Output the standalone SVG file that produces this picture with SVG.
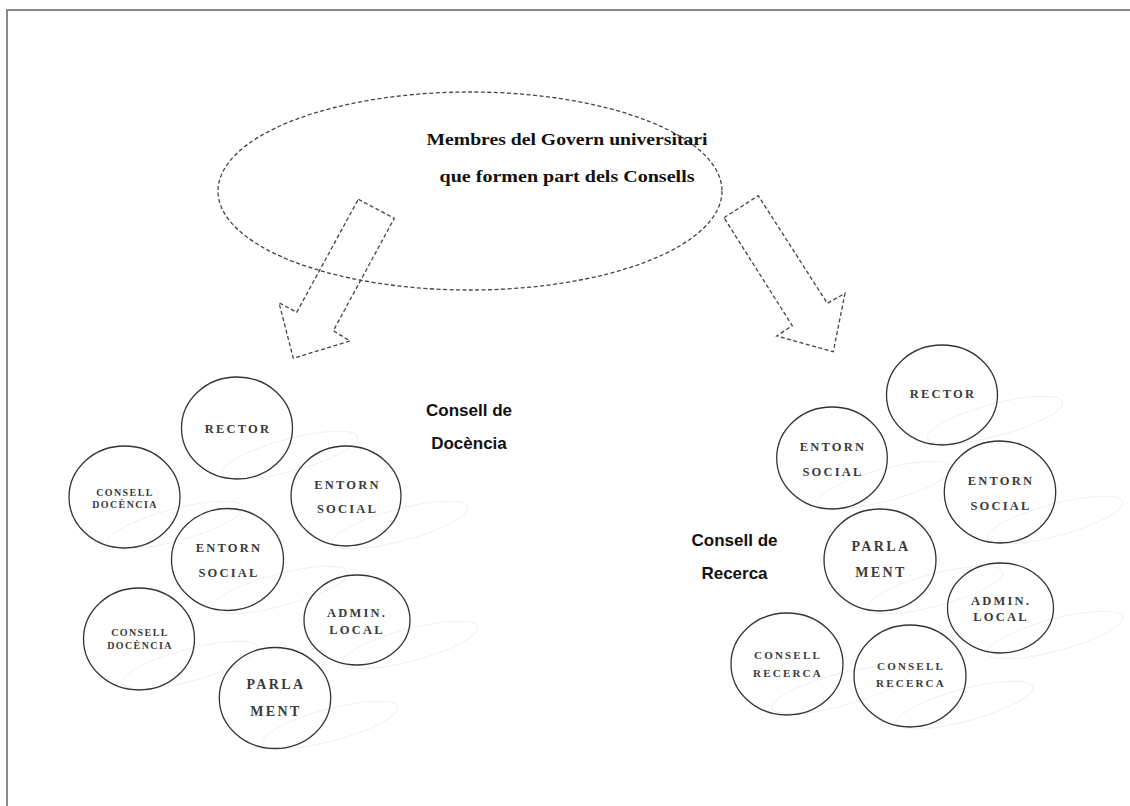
<svg xmlns="http://www.w3.org/2000/svg" width="1130" height="806" viewBox="0 0 1130 806">
<style>
.frame{stroke:#8a8a8a;stroke-width:2;fill:none}
.dash{fill:none;stroke:#444;stroke-width:1.3;stroke-dasharray:4 2.5}
.node{fill:none;stroke:#333;stroke-width:1.3}
.deco{fill:none;stroke:#efefef;stroke-width:1}
.lab{font-family:"Liberation Serif",serif;fill:#3a3a3a;text-anchor:middle;font-weight:bold}
.l13{font-size:12.5px;letter-spacing:2.2px}
.l14{font-size:14px;letter-spacing:2.4px}
.l10{font-size:10px;letter-spacing:1.4px}
.l11{font-size:11px;letter-spacing:2.2px}
.title{font-family:"Liberation Serif",serif;font-weight:bold;font-size:17px;fill:#111;text-anchor:middle}
.head{font-family:"Liberation Sans",sans-serif;font-weight:bold;font-size:17px;fill:#111;text-anchor:middle}
</style>
<rect width="1130" height="806" fill="#fff"/>
<path class="frame" d="M7,806 V10 H1130"/>

<g id="decorations">
<ellipse class="deco" cx="290" cy="455" rx="70" ry="16" transform="rotate(-15 290 455)"/>
<ellipse class="deco" cx="175" cy="525" rx="70" ry="16" transform="rotate(-15 175 525)"/>
<ellipse class="deco" cx="400" cy="525" rx="70" ry="16" transform="rotate(-15 400 525)"/>
<ellipse class="deco" cx="280" cy="590" rx="70" ry="16" transform="rotate(-15 280 590)"/>
<ellipse class="deco" cx="190" cy="665" rx="70" ry="16" transform="rotate(-15 190 665)"/>
<ellipse class="deco" cx="410" cy="645" rx="70" ry="16" transform="rotate(-15 410 645)"/>
<ellipse class="deco" cx="330" cy="725" rx="70" ry="16" transform="rotate(-15 330 725)"/>
<ellipse class="deco" cx="995" cy="420" rx="70" ry="16" transform="rotate(-15 995 420)"/>
<ellipse class="deco" cx="885" cy="485" rx="70" ry="16" transform="rotate(-15 885 485)"/>
<ellipse class="deco" cx="1055" cy="520" rx="70" ry="16" transform="rotate(-15 1055 520)"/>
<ellipse class="deco" cx="935" cy="590" rx="70" ry="16" transform="rotate(-15 935 590)"/>
<ellipse class="deco" cx="1055" cy="635" rx="70" ry="16" transform="rotate(-15 1055 635)"/>
<ellipse class="deco" cx="840" cy="690" rx="70" ry="16" transform="rotate(-15 840 690)"/>
<ellipse class="deco" cx="965" cy="705" rx="70" ry="16" transform="rotate(-15 965 705)"/>
</g>

<g id="govern">
<ellipse class="dash" cx="470" cy="191" rx="252" ry="99"/>
<text class="title" x="567" y="145" textLength="281" lengthAdjust="spacingAndGlyphs">Membres del Govern universitari</text>
<text class="title" x="567" y="182" textLength="255" lengthAdjust="spacingAndGlyphs">que formen part dels Consells</text>
</g>

<g id="connectors">
<polygon class="dash" points="358.3,199.3 394.3,218.3 333.3,330.7 350,341 293.3,358.3 279,302.7 296.7,312.3"/>
<polygon class="dash" points="724,217.7 758.3,195.7 827.3,303.3 845,293.3 833.3,351.7 776.7,336 792.3,325.7"/>
</g>

<g id="docencia-label">
<text class="head" x="469" y="416">Consell de</text>
<text class="head" x="469" y="449">Docència</text>
</g>
<g id="recerca-label">
<text class="head" x="734.5" y="546">Consell de</text>
<text class="head" x="734.5" y="579">Recerca</text>
</g>

<g id="d-rector"><ellipse class="node" cx="237" cy="428" rx="55.5" ry="51"/><text class="lab l13" x="238" y="432.5">RECTOR</text></g>
<g id="d-consell1"><ellipse class="node" cx="124.5" cy="497" rx="55.5" ry="51"/><text class="lab l10" x="125" y="495.5">CONSELL</text><text class="lab l10" x="125" y="508">DOCÈNCIA</text></g>
<g id="d-entorn1"><ellipse class="node" cx="346" cy="496" rx="55" ry="50"/><text class="lab l13" x="347.5" y="488.5">ENTORN</text><text class="lab l13" x="347.5" y="513">SOCIAL</text></g>
<g id="d-entorn2"><ellipse class="node" cx="227.5" cy="559.5" rx="56" ry="51"/><text class="lab l13" x="229" y="552">ENTORN</text><text class="lab l13" x="229" y="577">SOCIAL</text></g>
<g id="d-consell2"><ellipse class="node" cx="139" cy="639" rx="55.5" ry="51"/><text class="lab l10" x="140" y="636">CONSELL</text><text class="lab l10" x="140" y="649">DOCÈNCIA</text></g>
<g id="d-admin"><ellipse class="node" cx="357" cy="620" rx="53" ry="45"/><text class="lab l13" x="357" y="617">ADMIN.</text><text class="lab l13" x="357" y="633.5">LOCAL</text></g>
<g id="d-parlament"><ellipse class="node" cx="275" cy="698" rx="55.7" ry="50.5"/><text class="lab l14" x="276" y="689">PARLA</text><text class="lab l14" x="276" y="715.5">MENT</text></g>

<g id="r-rector"><ellipse class="node" cx="942" cy="395" rx="55.5" ry="50"/><text class="lab l13" x="943" y="398">RECTOR</text></g>
<g id="r-entorn1"><ellipse class="node" cx="832" cy="458" rx="55.3" ry="51"/><text class="lab l13" x="833" y="450.5">ENTORN</text><text class="lab l13" x="833" y="475.5">SOCIAL</text></g>
<g id="r-entorn2"><ellipse class="node" cx="1000" cy="492" rx="55.7" ry="51"/><text class="lab l13" x="1001" y="484.5">ENTORN</text><text class="lab l13" x="1001" y="509.5">SOCIAL</text></g>
<g id="r-parlament"><ellipse class="node" cx="880" cy="560" rx="56" ry="51"/><text class="lab l14" x="881" y="550.5">PARLA</text><text class="lab l14" x="881" y="577">MENT</text></g>
<g id="r-admin"><ellipse class="node" cx="1000.5" cy="608" rx="53" ry="45"/><text class="lab l13" x="1001" y="604.5">ADMIN.</text><text class="lab l13" x="1001" y="620.5">LOCAL</text></g>
<g id="r-consell1"><ellipse class="node" cx="787" cy="664" rx="56" ry="51"/><text class="lab l11" x="788" y="659">CONSELL</text><text class="lab l11" x="788" y="676.5">RECERCA</text></g>
<g id="r-consell2"><ellipse class="node" cx="910" cy="676" rx="56" ry="51"/><text class="lab l11" x="911" y="670">CONSELL</text><text class="lab l11" x="911" y="687">RECERCA</text></g>
</svg>
